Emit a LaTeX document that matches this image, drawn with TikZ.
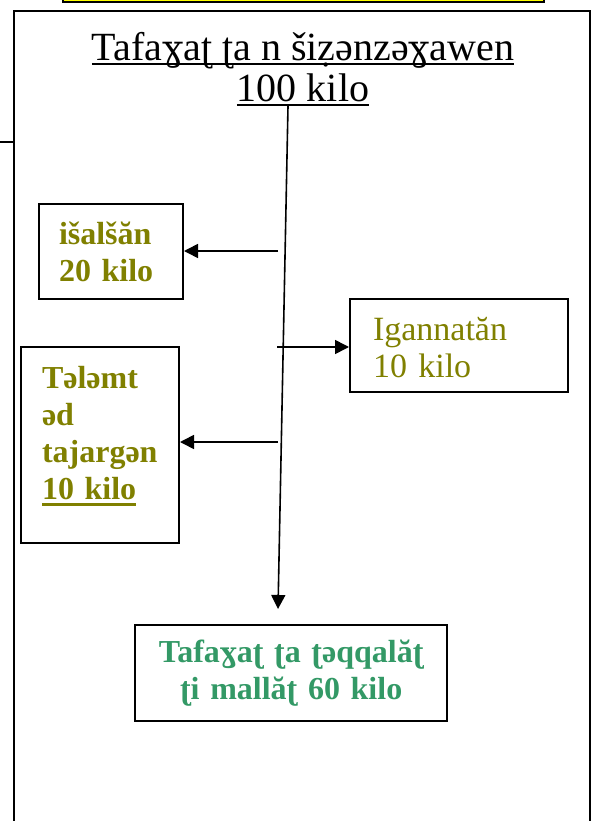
\documentclass[tikz,border=0pt]{standalone}
\usepackage{fontspec}
\setmainfont{Liberation Serif}
\newfontfamily\gamfont[Scale=0.88]{DejaVu Serif}
\usetikzlibrary{arrows.meta}
\definecolor{olivetxt}{RGB}{128,128,0}
\definecolor{greentxt}{RGB}{51,153,102}
\definecolor{hiyellow}{RGB}{255,255,0}
% looped Latin gamma
\newcommand\gam{{\gamfont ɣ}}
% underline: #1 = rule thickness, #2 = lower edge below baseline, #3 = text
\newcommand\myul[3]{\leavevmode\setbox0\hbox{#3}\rlap{\rule[-#2]{\wd0}{#1}}\box0}
\tikzset{
  boxs/.style={draw, line width=2pt, rectangle, anchor=north west, inner xsep=0pt, inner ysep=0pt},
  olivebold/.style={text=olivetxt, font=\fontsize{32}{37}\selectfont\bfseries, align=left},
  arr/.style={-{Triangle[length=14pt,width=14pt]}, line width=1.6pt},
  frameline/.style={line width=2pt}
}
\begin{document}
\begin{tikzpicture}[x=1pt,y=-1pt]
\useasboundingbox (0,0) rectangle (591,821);
% partial yellow box at the top
\node[draw, line width=1.8pt, fill=hiyellow, minimum width=481, minimum height=40, anchor=south west, inner sep=0pt] (topbox) at (62,3) {};
% frame
\draw[frameline] (14,840) -- (14,11) -- (589.5,11) -- (589.5,840);
\draw[frameline] (0,142) -- (14,142);
% title
\node[anchor=north, inner sep=0pt, align=center, font=\fontsize{40}{41}\selectfont] (title) at (303,32)
  {\myul{1.8pt}{4.5pt}{Tafa\gam aʈ ʈa n šiẓənzə\gam awen}\\ \myul{1.8pt}{4.5pt}{100 kilo}};
% boxes
\node[boxs, olivebold, minimum width=144, minimum height=95, text width=104] (isal) at (38,203)
  {išalšăn\\ 20 kilo};
\node[boxs, olivebold, minimum width=158, minimum height=196, text width=116] (talemt) at (20,346)
  {Tələmt\\ əd\\ tajargən\\ \myul{2.8pt}{6.5pt}{10 kilo}\rule[-24pt]{0pt}{0pt}};
\node[boxs, text=olivetxt, font=\fontsize{34}{37}\selectfont, align=left, minimum width=218, minimum height=93, text width=172] (igann) at (349,298)
  {\rule{0pt}{28pt}Igannatăn\\ 10 kilo};
\node[boxs, line width=2.3pt, text=greentxt, font=\fontsize{32}{37}\selectfont\bfseries, align=center, minimum width=312, minimum height=96, text width=312] (teqq) at (134,624)
  {Tafa\gam aʈ ʈa ʈəqqalăʈ\\ ʈi mallăʈ 60 kilo};
% connectors
\coordinate (vtop) at (288,106);
\coordinate (vend) at (278,609);
\draw[arr] (vtop) -- (vend);
\coordinate (s1) at (278,251);
\coordinate (s2) at (278,442);
\coordinate (s3) at (277,347);
\draw[arr] (s1) -- (s1 -| isal.east);
\draw[arr] (s2) -- (s2 -| talemt.east);
\draw[arr] (s3) -- (s3 -| igann.west);
\end{tikzpicture}
\end{document}
